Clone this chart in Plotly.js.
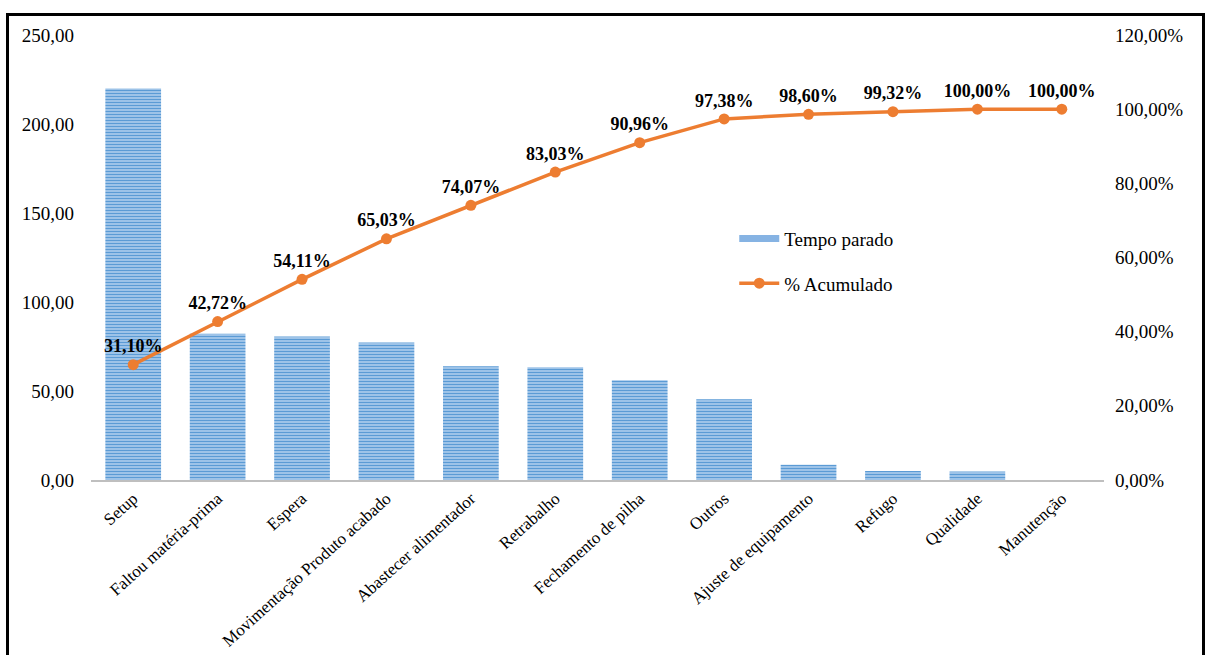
<!DOCTYPE html>
<html>
<head>
<meta charset="utf-8">
<script src="https://cdn.plot.ly/plotly-3.0.1.min.js"></script>
<style>
  html, body { margin: 0; padding: 0; background: #ffffff; }
  #wrap { position: relative; width: 1209px; height: 655px; overflow: hidden; }
  #chart { position: absolute; left: 0; top: 0; width: 1209px; height: 655px; }
  #frame { position: absolute; left: 6px; top: 13px; width: 1199px; height: 700px;
           border: 3px solid #000; pointer-events: none; box-sizing: border-box; }
</style>
</head>
<body>
<div id="wrap">
  <div id="chart"></div>
  <div id="frame"></div>
</div>
<script>
// Downtime causes, sorted descending (Pareto)
const categories = [
  "Setup", "Faltou matéria-prima", "Espera", "Movimentação Produto acabado",
  "Abastecer alimentador", "Retrabalho", "Fechamento de pilha", "Outros",
  "Ajuste de equipamento", "Refugo", "Qualidade", "Manutenção"
];
// Tempo parado per cause
const tempoParado = [220.0, 82.2, 80.6, 77.2, 63.9, 63.4, 56.1, 45.4, 8.6, 5.1, 4.8, 0.0];
// Cumulative share, in percent
const acumulado = [31.10, 42.72, 54.11, 65.03, 74.07, 83.03, 90.96, 97.38, 98.60, 99.32, 100.00, 100.00];

const serif = "Liberation Serif, Times New Roman, serif";
const pctLabels = acumulado.map(v => v.toFixed(2).replace('.', ',') + '%');

const bars = {
  type: 'bar',
  name: 'Tempo parado',
  x: categories,
  y: tempoParado,
  width: 0.66,
  marker: {
    color: '#A9C9EC',
    line: { width: 0 },
    pattern: { shape: '-', fgcolor: '#5B9BD5', bgcolor: '#B3D0EF', size: 3, solidity: 0.5 }
  },
  showlegend: false,
  hoverinfo: 'x+y'
};

// legend key for the bars: a wide striped band
const barKey = {
  type: 'scatter',
  mode: 'lines',
  name: 'Tempo parado',
  x: [null],
  y: [null],
  line: { color: '#86B3E3', width: 7 },
  legendgroup: 'a',
  hoverinfo: 'skip'
};

const line = {
  type: 'scatter',
  mode: 'lines+markers+text',
  name: '% Acumulado',
  x: categories,
  y: acumulado.map(v => v / 100),
  yaxis: 'y2',
  line: { color: '#ED7D31', width: 3.5 },
  marker: { color: '#ED7D31', size: 11 },
  text: pctLabels,
  textposition: 'top center',
  textfont: { family: serif, size: 18, color: '#000', weight: 'bold' },
  legendgroup: 'b',
  cliponaxis: false
};

const layout = {
  width: 1209,
  height: 655,
  margin: { l: 91, r: 105, t: 35, b: 175 },
  paper_bgcolor: '#ffffff',
  plot_bgcolor: '#ffffff',
  separators: ',.',
  font: { family: serif, size: 19, color: '#000' },
  showlegend: true,
  legend: {
    x: 0.635, y: 0.585, xanchor: 'left', yanchor: 'top',
    bgcolor: 'rgba(0,0,0,0)',
    font: { family: serif, size: 19, color: '#000' },
    tracegroupgap: 17,
    itemwidth: 40
  },
  xaxis: {
    type: 'category',
    range: [-0.5, categories.length - 0.5],
    showline: true,
    linecolor: '#BFBFBF',
    linewidth: 2,
    showgrid: false,
    ticks: '',
    tickangle: -42,
    tickfont: { family: serif, size: 17, color: '#000' },
    zeroline: false
  },
  yaxis: {
    range: [0, 250],
    dtick: 50,
    tickformat: '.2f',
    showgrid: false,
    zeroline: false,
    showline: false,
    ticks: '',
    ticklabelstandoff: 16,
    tickfont: { family: serif, size: 19, color: '#000' }
  },
  yaxis2: {
    overlaying: 'y',
    side: 'right',
    range: [0, 1.2],
    dtick: 0.2,
    tickformat: '.2%',
    showgrid: false,
    zeroline: false,
    showline: false,
    ticks: '',
    ticklabelstandoff: 10,
    tickfont: { family: serif, size: 19, color: '#000' }
  }
};

Plotly.newPlot('chart', [bars, barKey, line], layout, { displayModeBar: false, staticPlot: true });
</script>
</body>
</html>
